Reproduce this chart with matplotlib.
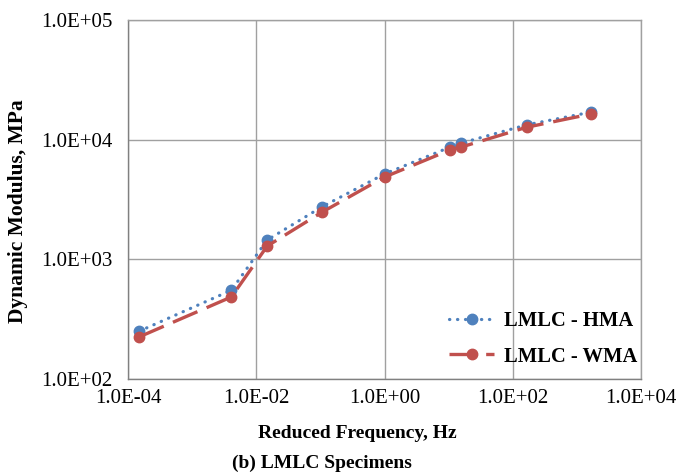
import matplotlib
matplotlib.use("Agg")
import matplotlib.pyplot as plt
from matplotlib.ticker import FixedLocator, NullLocator

plt.rcParams['font.family'] = ['Liberation Serif', 'DejaVu Serif']

freq = [1.5e-4, 4.1e-3, 1.48e-2, 0.105, 1.0, 10.5, 15.8, 165, 1670]
hma = [251, 552, 1450, 2740, 5170, 8660, 9370, 13300, 17000]
wma = [225, 485, 1290, 2470, 4870, 8200, 8680, 12700, 16400]

xticks = [1e-4, 1e-2, 1e0, 1e2, 1e4]
xlabels = ['1.0E-04', '1.0E-02', '1.0E+00', '1.0E+02', '1.0E+04']
yticks = [1e2, 1e3, 1e4, 1e5]
ylabels = ['1.0E+02', '1.0E+03', '1.0E+04', '1.0E+05']

fig = plt.figure(figsize=(6.79, 4.75), dpi=100)
ax = fig.add_axes([128/679, 1-379/475, (641-128)/679, (379-20)/475])

blue = '#4F81BD'
red = '#C0504D'

ax.plot(freq, hma, color=blue, lw=2.3, linestyle=(0, (0.1, 2.4)),
        dash_capstyle='round', marker='o', markersize=7.5,
        markeredgecolor=blue, markerfacecolor=blue, label='LMLC - HMA', zorder=3)
ax.plot(freq, wma, color=red, lw=2.4, linestyle=(0, (8, 3)),
        marker='o', markersize=7.5, markeredgecolor=red, markerfacecolor=red,
        label='LMLC - WMA', zorder=4)

ax.set_xscale('log')
ax.set_yscale('log')
ax.set_xlim(1e-4, 1e4)
ax.set_ylim(1e2, 1e5)
ax.xaxis.set_major_locator(FixedLocator(xticks))
ax.yaxis.set_major_locator(FixedLocator(yticks))
ax.xaxis.set_minor_locator(NullLocator())
ax.yaxis.set_minor_locator(NullLocator())
ax.set_xticklabels(xlabels, fontsize=15)
ax.set_yticklabels(ylabels, fontsize=15)
ax.tick_params(axis='y', length=0, pad=11)
ax.tick_params(axis='x', length=0, pad=7)
ax.grid(True, color='#A0A0A0', lw=1.0)
for s in ax.spines.values():
    s.set_color('#A0A0A0')
    s.set_linewidth(1.0)
ax.spines['left'].set_color('#808080')
ax.spines['bottom'].set_color('#808080')

ax.set_xlabel('Reduced Frequency, Hz', fontsize=14, fontweight='bold', va='center')
ax.xaxis.set_label_coords((357-128)/513, (379-433)/359)
ax.set_ylabel('Dynamic Modulus, MPa', fontsize=15.5, fontweight='bold', va='center')
ax.yaxis.set_label_coords((18-128)/513, (379-211)/359)

leg = ax.legend(loc='lower right', bbox_to_anchor=(1.016, 0.0), frameon=False,
                prop={'size': 14.8, 'weight': 'bold'}, handlelength=2.2,
                handletextpad=0.45, labelspacing=0.75, borderaxespad=0.2)

fig.text(322/679, 1-463/475, '(b) LMLC Specimens', ha='center', va='center',
         fontsize=14, fontweight='bold')

fig.savefig('out.png', dpi=100)
